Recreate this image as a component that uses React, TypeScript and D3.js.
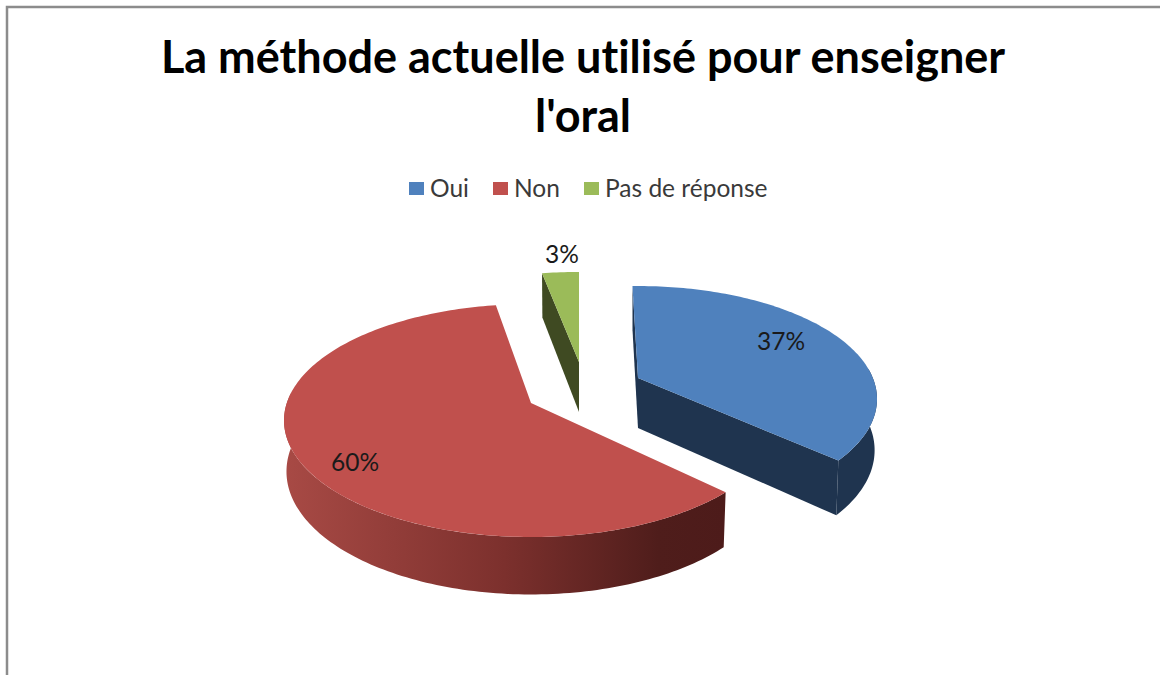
import * as d3 from "d3";

const categories = ["Oui", "Non", "Pas de réponse"];
const values = [37, 60, 3];
const percentLabels = ["37%", "60%", "3%"];
const titleLines = ["La méthode actuelle utilisé pour enseigner", "l'oral"];

const width = 1160;
const height = 675;

const topColors = ["#4f81bd", "#c0504d", "#9bbb59"];
const wallColors = ["#1f344f", "#4d1b1a", "#3f4a22"];

// where each exploded slice sits, its apex on the top face
const apexes = [[638, 378], [531, 403], [579, 362]];
const radii = [239, 247, 240];
// perspective squeeze of the far side, differs a bit per slice in the picture
const squeeze = [0.186, 0.15, 0.196];
const angleShift = [-0.4, 2.5, 1.2];
const labelSpots = [[781, 342], [355, 463], [562, 255]];
// which cut faces can be seen: [start edge, end edge]
const wallsShown = [[true, true], [false, false], [true, false]];

const legendX = [409, 493, 584];

const nearY = 134;
const depth = 50;
const depthSqueeze = 0.13;

const project = (theta: number, r: number, i: number, down = false) => {
  const t = theta + (angleShift[i] * Math.PI) / 180;
  const k = squeeze[i];
  const u = Math.sin(t) * r;
  const v = -Math.cos(t) * r;
  const w = 1 / (1 - k * v);
  const [ax, ay] = apexes[i];
  const cx = radii[i] * Math.sqrt(1 - k * k);
  return [
    ax + cx * u * w * (down ? 0.99 : 1),
    ay + nearY * (1 - k) * v * w + (down ? depth / (1 - depthSqueeze * v) : 0),
  ] as [number, number];
};

const sweep = (a: number, b: number) => {
  const n = Math.max(2, Math.ceil(Math.abs(b - a) / 0.02));
  return d3.range(n + 1).map((j) => a + ((b - a) * j) / n);
};

const rotation = (-1.2 * Math.PI) / 180;
const slices = d3
  .pie<number>()
  .sort(null)
  .startAngle(rotation)
  .endAngle(rotation + 2 * Math.PI)(values);

const line = d3.line();

const App = () => {
  return (
    <svg
      width={width}
      height={height}
      style={{ position: "absolute", left: 0, top: 0, background: "#fff" }}
    >
      <defs>
        <linearGradient id="redRim" gradientUnits="userSpaceOnUse" x1="284" x2="725" y1="0" y2="0">
          <stop offset="0" stopColor="#a84a45" />
          <stop offset="0.5" stopColor="#7c302d" />
          <stop offset="0.85" stopColor="#4f1d1b" />
          <stop offset="1" stopColor="#4d1b1a" />
        </linearGradient>
      </defs>

      <path d="M7,675V7H1160" fill="none" stroke="#8c8c8c" strokeWidth={2.5} />

      {titleLines.map((t, i) => (
        <text
          key={t}
          x={583}
          y={73 + i * 59}
          textAnchor="middle"
          fontFamily="Lato"
          fontWeight="bold"
          fontSize={45}
          fill="#000"
          style={{ fontVariantLigatures: "none" }}
        >
          {t}
        </text>
      ))}

      {categories.map((c, i) => (
        <g key={c}>
          <rect x={legendX[i]} y={182} width={15} height={13} fill={topColors[i]} />
          <text x={legendX[i] + 21} y={197} fontFamily="Lato" fontSize={24.5} fill="#3a3a3a">
            {c}
          </text>
        </g>
      ))}

      {slices.map((s, i) => {
        const a = s.startAngle;
        const b = s.endAngle;
        const shift = (angleShift[i] * Math.PI) / 180;
        const rimFrom = Math.max(a, (85 * Math.PI) / 180 - shift);
        const rimTo = Math.min(b, (275 * Math.PI) / 180 - shift);
        const rim =
          rimTo > rimFrom
            ? [
                ...sweep(rimFrom, rimTo).map((t) => project(t, 1, i)),
                ...sweep(rimTo, rimFrom).map((t) => project(t, 1, i, true)),
              ]
            : null;
        const wall = (t: number) => [
          project(t, 0, i),
          project(t, 1, i),
          project(t, 1, i, true),
          project(t, 0, i, true),
        ];
        const top = [project(a, 0, i), ...sweep(a, b).map((t) => project(t, 1, i))];
        return (
          <g key={categories[i]}>
            {rim && (
              <path
                d={line(rim) + "Z"}
                fill={i === 1 ? "url(#redRim)" : wallColors[i]}
              />
            )}
            {wallsShown[i][0] && <path d={line(wall(a)) + "Z"} fill={wallColors[i]} />}
            {wallsShown[i][1] && <path d={line(wall(b)) + "Z"} fill={wallColors[i]} />}
            <path d={line(top) + "Z"} fill={topColors[i]} />
          </g>
        );
      })}

      {percentLabels.map((p, i) => (
        <text
          key={p}
          x={labelSpots[i][0]}
          y={labelSpots[i][1] + 8}
          textAnchor="middle"
          fontFamily="Lato"
          fontSize={24.5}
          fill="#1a1a1a"
        >
          {p}
        </text>
      ))}
    </svg>
  );
};

export default App;
